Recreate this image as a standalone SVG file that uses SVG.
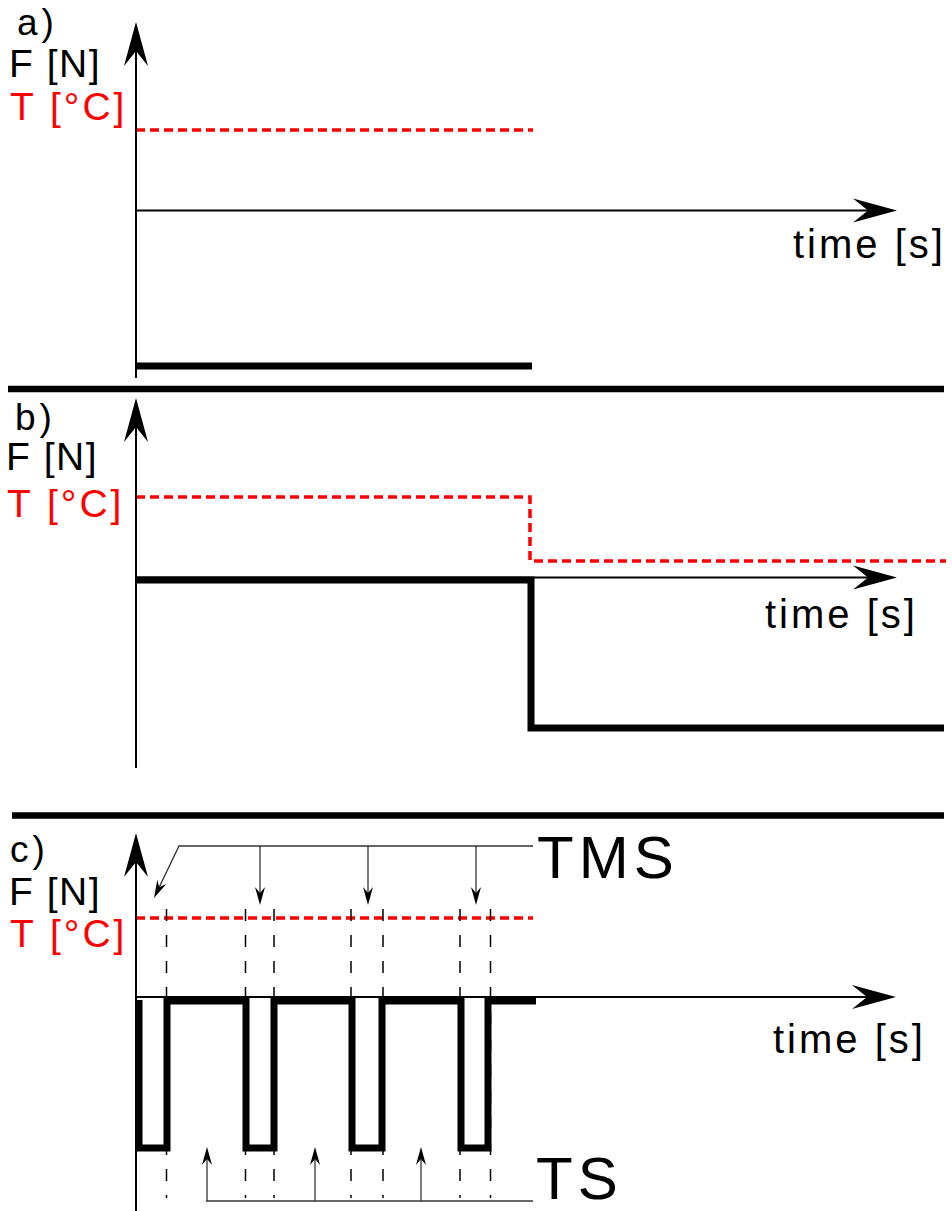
<svg xmlns="http://www.w3.org/2000/svg" width="952" height="1211" viewBox="0 0 952 1211">
<style>
text{font-family:"Liberation Sans",Arial,sans-serif;}
.lbl{font-size:39px;letter-spacing:1.5px;fill:#000;}
.red{fill:#ff0000;letter-spacing:3px;}
.pl{font-size:37px;letter-spacing:4px;}
.time{font-size:40px;letter-spacing:3px;}
.big{font-size:60px;letter-spacing:5px;}
.axis{stroke:#000;stroke-width:2;fill:none;}
.sep{stroke:#000;stroke-width:6.5;fill:none;}
.thick{stroke:#000;stroke-width:7;fill:none;stroke-linejoin:miter;}
.temp{stroke:#ff0000;stroke-width:3.5;stroke-dasharray:9,5;fill:none;}
.guide{stroke:#000;stroke-width:1.5;stroke-dasharray:12,14;fill:none;}
.ann{stroke:#333;stroke-width:1.3;fill:none;}
</style>
<defs>
<marker id="bigArrow" markerUnits="userSpaceOnUse" orient="auto" markerWidth="60" markerHeight="30" refX="0" refY="0" overflow="visible">
<path d="M29,0 L-15,-12 L0,0 L-15,12 Z" fill="#000"/>
</marker>
<marker id="smallArrow" markerUnits="userSpaceOnUse" orient="auto" markerWidth="24" markerHeight="12" refX="0" refY="0" overflow="visible">
<path d="M12,0 L-6,-5 L0,0 L-6,5 Z" fill="#000"/>
</marker>
</defs>

<g id="panel-a">
<text class="pl" x="17" y="35">a)</text>
<text class="lbl" x="9" y="77">F [N]</text>
<text class="lbl red" x="10" y="120">T [°C]</text>
<text class="time" x="793" y="258">time [s]</text>
</g>
<g id="panel-b">
<text class="pl" x="15" y="430">b)</text>
<text class="lbl" x="6" y="470">F [N]</text>
<text class="lbl red" x="7" y="517">T [°C]</text>
<text class="time" x="765" y="628">time [s]</text>
</g>
<g id="panel-c">
<text class="pl" x="10" y="862" font-size="36">c)</text>
<text class="lbl" x="9" y="905">F [N]</text>
<text class="lbl red" x="10" y="947">T [°C]</text>
<text class="time" x="773" y="1053">time [s]</text>
<text class="big" x="537" y="878">TMS</text>
<text class="big" x="536" y="1199" font-size="57" letter-spacing="6">TS</text>
</g>

<g id="connectors">
<line class="sep" x1="8" y1="389" x2="944" y2="389"/>
<line class="sep" x1="12" y1="815.5" x2="944" y2="815.5"/>

<line class="temp" x1="136" y1="130" x2="533" y2="130"/>
<line class="thick" stroke-width="6.5" x1="136" y1="366" x2="532" y2="366"/>
<line class="axis" x1="136" y1="378" x2="136" y2="51" marker-end="url(#bigArrow)"/>
<line class="axis" x1="136" y1="210.5" x2="868" y2="210.5" marker-end="url(#bigArrow)"/>

<path class="temp" d="M136,497 H530 V561 H946"/>
<line class="axis" x1="136" y1="577.5" x2="868" y2="577.5" marker-end="url(#bigArrow)"/>
<path class="thick" stroke-width="7.5" d="M136,580 H531 V728 H944"/>
<line class="axis" x1="136" y1="768" x2="136" y2="427" marker-end="url(#bigArrow)"/>

<line class="temp" x1="136" y1="918" x2="533" y2="918"/>
<line class="guide" x1="166.5" y1="909" x2="166.5" y2="1198"/>
<line class="guide" x1="245.5" y1="909" x2="245.5" y2="1198"/>
<line class="guide" x1="274" y1="909" x2="274" y2="1198"/>
<line class="guide" x1="351" y1="909" x2="351" y2="1198"/>
<line class="guide" x1="383" y1="909" x2="383" y2="1198"/>
<line class="guide" x1="460" y1="909" x2="460" y2="1198"/>
<line class="guide" x1="490.5" y1="909" x2="490.5" y2="1198"/>
<line class="axis" x1="136" y1="997" x2="867" y2="997" marker-end="url(#bigArrow)"/>
<path class="thick" stroke-width="5.5" d="M139,1000 V1148 H167 V1001 H246 V1148 H274 V1001 H352 V1148 H382 V1001 H461 V1148 H488 V1001 H536"/>
<line class="axis" x1="136" y1="1211" x2="136" y2="862" marker-end="url(#bigArrow)"/>

<path class="ann" d="M533,846 H179 L159.2,887.2" marker-end="url(#smallArrow)"/>
<line class="ann" x1="260" y1="846" x2="260" y2="893" marker-end="url(#smallArrow)"/>
<line class="ann" x1="368" y1="846" x2="368" y2="893" marker-end="url(#smallArrow)"/>
<line class="ann" x1="476" y1="846" x2="476" y2="893" marker-end="url(#smallArrow)"/>

<line class="ann" x1="206" y1="1201" x2="533" y2="1201"/>
<line class="ann" x1="207" y1="1201" x2="207" y2="1159" marker-end="url(#smallArrow)"/>
<line class="ann" x1="315" y1="1201" x2="315" y2="1159" marker-end="url(#smallArrow)"/>
<line class="ann" x1="421" y1="1201" x2="421" y2="1159" marker-end="url(#smallArrow)"/>
</g>
</svg>
